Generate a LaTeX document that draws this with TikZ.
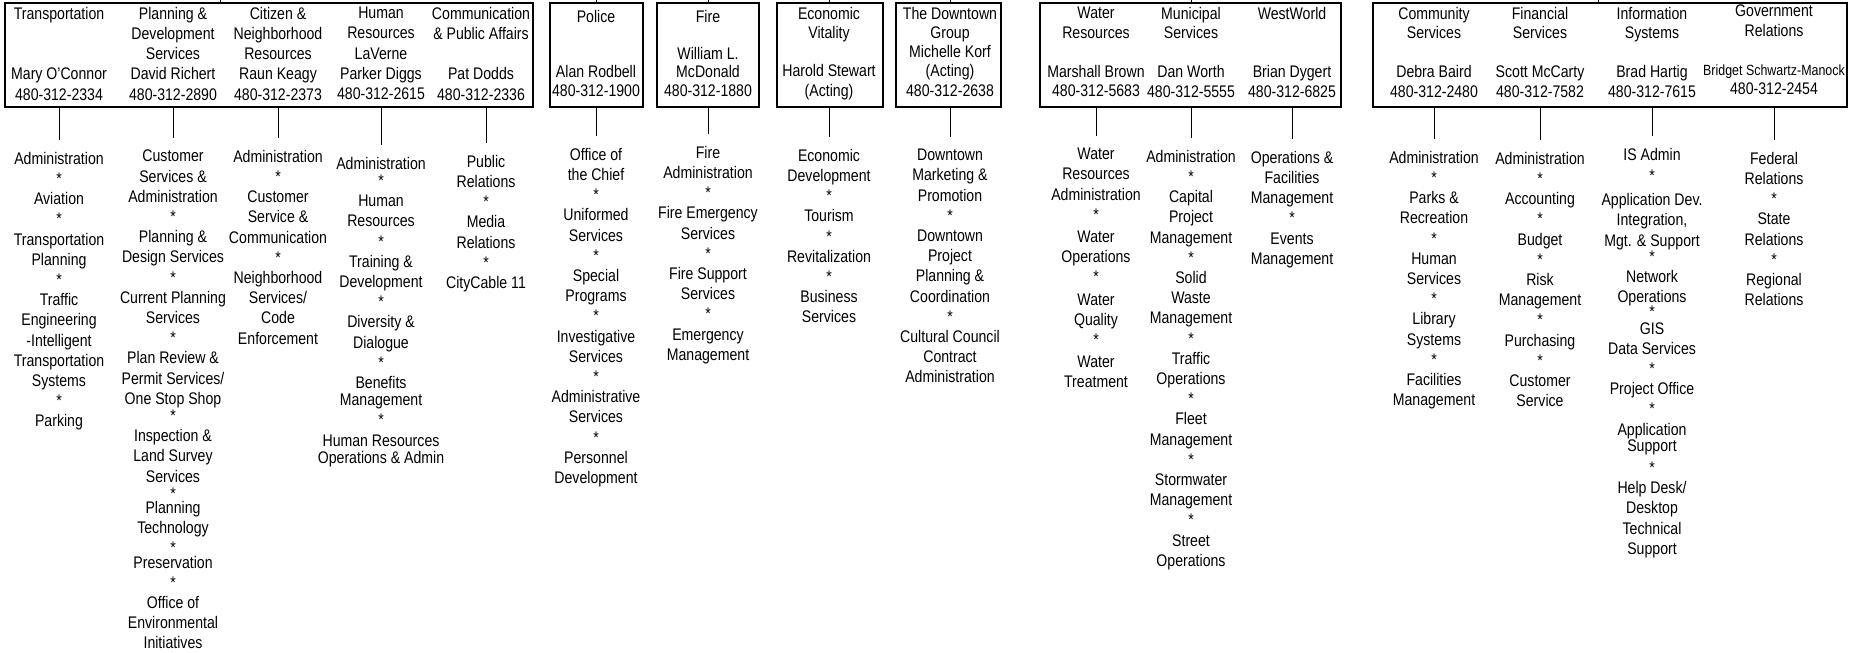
\documentclass[tikz,border=0pt]{standalone}
\usepackage{fontspec}
\setmainfont{Liberation Sans}[FakeStretch=0.84]
\usetikzlibrary{positioning,fit}
\newcommand{\divstar}{\\{*}\\}
\tikzset{
  keret/.style={draw,line width=1.2pt,inner sep=0pt},
  fej/.style={anchor=north,align=center,inner sep=2pt},
  sor/.style={font=\fontsize{16.8}{#1}\selectfont},
  lista/.style={anchor=north,align=center,inner xsep=2pt,inner ysep=12pt},
  vonal/.style={line width=1pt},
}

\begin{document}
\begin{tikzpicture}[x=1pt,y=-1pt,font=\fontsize{16.8}{20.2}\selectfont]
  \useasboundingbox (0,0) rectangle (1853,653);
  % group boxes
  \node[keret,fit={(5,3) (533,107)}] (g1) {};
  \node[keret,fit={(550,3) (643,107)}] (g2) {};
  \node[keret,fit={(657,3) (759,107)}] (g3) {};
  \node[keret,fit={(777,3) (883,107)}] (g4) {};
  \node[keret,fit={(896,3) (1001,107)}] (g5) {};
  \node[keret,fit={(1040,3) (1341,107)}] (g6) {};
  \node[keret,fit={(1373,3) (1847,107)}] (g7) {};
  % heads
  \node[fej] (h-tr) at (59,5) {Transportation\\~\\~\\Mary O'Connor\\480-312-2334};
  \node[fej] (h-pd) at (173,5) {Planning \&\\Development\\Services\\David Richert\\480-312-2890};
  \node[fej] (h-cn) at (278,5) {Citizen \&\\Neighborhood\\Resources\\Raun Keagy\\480-312-2373};
  \node[fej] (h-hr) at (381,5) {Human\\Resources\\LaVerne\\Parker Diggs\\480-312-2615};
  \node[fej] (h-cp) at (481,5) {Communication\\\& Public Affairs\\~\\Pat Dodds\\480-312-2336};
  \node[fej,sor=18.3] (h-po) at (596,8.5) {Police\\~\\~\\Alan Rodbell\\480-312-1900};
  \node[fej,sor=18.3] (h-fi) at (708,8.5) {Fire\\~\\William L.\\McDonald\\480-312-1880};
  \node[fej,sor=19.2] (h-ev) at (829,5) {Economic\\Vitality\\~\\Harold Stewart\\(Acting)};
  \node[fej,sor=19.2] (h-dg) at (950,5) {The Downtown\\Group\\Michelle Korf\\(Acting)\\480-312-2638};
  \node[fej,sor=19.5] (h-wr) at (1096,5) {Water\\Resources\\~\\Marshall Brown\\480-312-5683};
  \node[fej,sor=19.5] (h-ms) at (1191,5) {Municipal\\Services\\~\\Dan Worth\\480-312-5555};
  \node[fej,sor=19.5] (h-ww) at (1292,5) {WestWorld\\~\\~\\Brian Dygert\\480-312-6825};
  \node[fej,sor=19.5] (h-cs) at (1434,5) {Community\\Services\\~\\Debra Baird\\480-312-2480};
  \node[fej,sor=19.5] (h-fs) at (1540,5) {Financial\\Services\\~\\Scott McCarty\\480-312-7582};
  \node[fej,sor=19.5] (h-is) at (1652,5) {Information\\Systems\\~\\Brad Hartig\\480-312-7615};
  \node[fej,sor=19.5] (h-gr) at (1774,3) {Government\\Relations\\~\\{\fontsize{14.8}{19.5}\selectfont Bridget Schwartz-Manock}\\480-312-2454};
  % divisions
  \node[lista] (l-tr) at (59,140) {Administration\divstar Aviation\divstar Transportation\\Planning\divstar Traffic\\Engineering\\-Intelligent\\Transportation\\Systems\divstar Parking};
  \node[lista] (l-pd) at (173,138) {Customer\\Services \&\\Administration\divstar Planning \&\\Design Services\divstar Current Planning\\Services\divstar Plan Review \&\\Permit Services/\\One Stop Shop\\[-3pt]{*}\\Inspection \&\\Land Survey\\Services\\[-3pt]{*}\\[-6pt]Planning\\Technology\\{*}\\[-6pt]Preservation\divstar Office of\\Environmental\\Initiatives};
  \node[lista] (l-cn) at (278,138) {Administration\divstar Customer\\Service \&\\Communication\divstar Neighborhood\\Services/\\Code\\Enforcement};
  \node[lista] (l-hr) at (381,145) {Administration\\[-3pt]{*}\\Human\\Resources\divstar Training \&\\Development\divstar Diversity \&\\Dialogue\divstar Benefits\\[-3pt]Management\divstar Human Resources\\[-3pt]Operations \& Admin};
  \node[lista] (l-cp) at (486,143) {Public\\Relations\divstar Media\\Relations\divstar CityCable 11};
  \node[lista] (l-po) at (596,136) {Office of\\the Chief\divstar Uniformed\\Services\divstar Special\\Programs\divstar Investigative\\Services\divstar Administrative\\Services\divstar Personnel\\Development};
  \node[lista] (l-fi) at (708,134) {Fire\\Administration\divstar Fire Emergency\\Services\divstar Fire Support\\Services\divstar Emergency\\Management};
  \node[lista] (l-ev) at (829,137) {Economic\\Development\divstar Tourism\divstar Revitalization\divstar Business\\Services};
  \node[lista] (l-dg) at (950,137) {Downtown\\Marketing \&\\Promotion\divstar Downtown\\Project\\Planning \&\\Coordination\divstar Cultural Council\\Contract\\Administration};
  \node[lista] (l-wr) at (1096,136) {Water\\Resources\\Administration\\{*}\\[2pt]Water\\Operations\\{*}\\[2pt]Water\\Quality\\{*}\\[2pt]Water\\Treatment};
  \node[lista] (l-ms) at (1191,138) {Administration\divstar Capital\\Project\\Management\divstar Solid\\Waste\\Management\divstar Traffic\\Operations\divstar Fleet\\Management\divstar Stormwater\\Management\divstar Street\\Operations};
  \node[lista] (l-ww) at (1292,139) {Operations \&\\Facilities\\Management\divstar Events\\Management};
  \node[lista] (l-cs) at (1434,139) {Administration\divstar Parks \&\\Recreation\divstar Human\\Services\divstar Library\\Systems\divstar Facilities\\Management};
  \node[lista] (l-fs) at (1540,140) {Administration\divstar Accounting\divstar Budget\divstar Risk\\Management\divstar Purchasing\divstar Customer\\Service};
  \node[lista] (l-is) at (1652,136) {IS Admin\\[1pt]{*}\\[4pt]Application Dev.\\Integration,\\Mgt. \& Support\\[-4pt]{*}\\Network\\Operations\\[-5pt]{*}\\[-4pt]GIS\\Data Services\divstar Project Office\divstar Application\\[-4pt]Support\\[2pt]{*}\\Help Desk/\\Desktop\\Technical\\Support};
  \node[lista] (l-gr) at (1774,140) {Federal\\Relations\divstar State\\Relations\divstar Regional\\Relations};
  % connectors below
  \foreach \d/\g in {tr/g1,pd/g1,cn/g1,hr/g1,cp/g1,po/g2,fi/g3,ev/g4,dg/g5,
                     wr/g6,ms/g6,ww/g6,cs/g7,fs/g7,is/g7,gr/g7}
    \draw[vonal] (l-\d.north) -- (l-\d.north |- \g.south);
  % stubs to the level above
  \coordinate (f1) at (220,0);
  \coordinate (f2) at (596,0);
  \coordinate (f3) at (708,0);
  \coordinate (f4) at (829,0);
  \coordinate (f5) at (950,0);
  \coordinate (f6) at (1191,0);
  \coordinate (f7) at (1598,0);
  \foreach \i in {1,...,7}
    \draw[vonal] (f\i) -- (f\i |- g\i.north);
\end{tikzpicture}
\end{document}
